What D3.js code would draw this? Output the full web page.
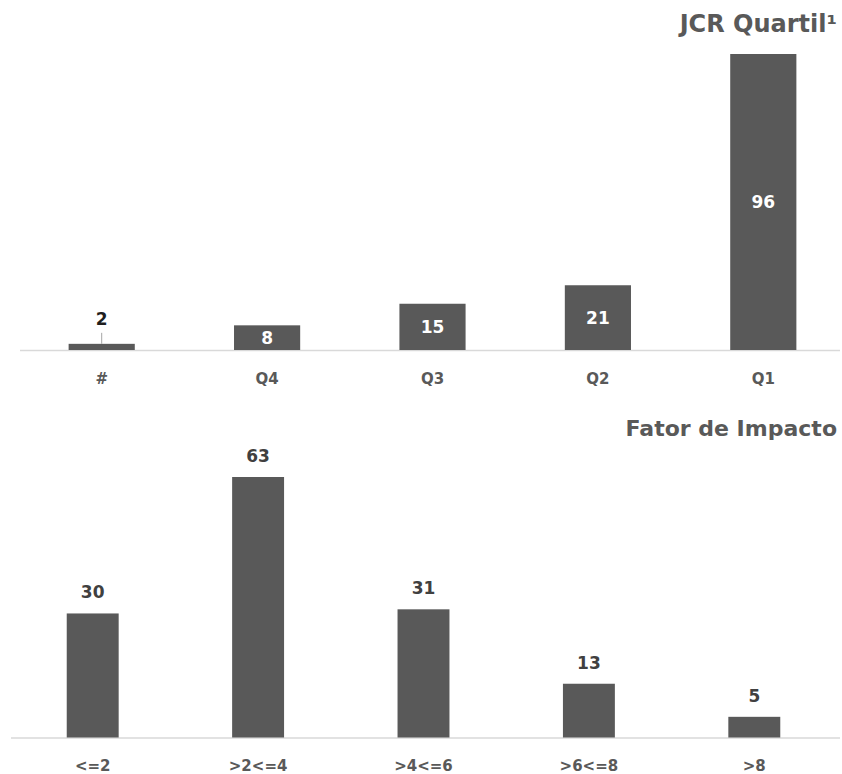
<!DOCTYPE html>
<html>
<head>
<meta charset="utf-8">
<script src="https://cdn.jsdelivr.net/npm/d3@7/dist/d3.min.js"></script>
<style>
  html, body { margin: 0; padding: 0; background: #fff; }
  svg { display: block; }
</style>
</head>
<body>
<svg id="chart" width="842" height="774"></svg>
<script>
// JCR quartile counts
const quartilCategories = ["#", "Q4", "Q3", "Q2", "Q1"];
const quartilValues = [2, 8, 15, 21, 96];

// Impact factor range counts
const fatorCategories = ["<=2", ">2<=4", ">4<=6", ">6<=8", ">8"];
const fatorValues = [30, 63, 31, 13, 5];

const svg = d3.select("#chart");
const barColor = "#595959";
const textGray = "#595959";
const font = "'DejaVu Sans', Verdana, sans-serif";

function drawPanel(opts) {
  const g = svg.append("g");
  const x = d3.scaleBand()
    .domain(opts.categories)
    .range(opts.xRange)
    .paddingInner(opts.padding)
    .paddingOuter(opts.padding / 2);
  const y = d3.scaleLinear()
    .domain([0, opts.yMax])
    .range([opts.baseline, opts.top]);

  const data = opts.categories.map((c, i) => ({ cat: c, val: opts.values[i] }));

  // baseline
  g.append("line")
    .attr("x1", opts.xRange[0] + 1).attr("x2", 840)
    .attr("y1", opts.baseline + 0.5).attr("y2", opts.baseline + 0.5)
    .attr("stroke", "#d9d9d9").attr("stroke-width", 1.5);

  // bars
  g.selectAll("rect.bar").data(data).join("rect")
    .attr("class", "bar")
    .attr("x", d => x(d.cat))
    .attr("width", x.bandwidth())
    .attr("y", d => y(d.val))
    .attr("height", d => opts.baseline - y(d.val))
    .attr("fill", barColor);

  // category axis
  const axis = d3.axisBottom(x).tickSize(0).tickPadding(0);
  const ax = g.append("g")
    .attr("transform", `translate(0,${opts.baseline})`)
    .call(axis);
  ax.select(".domain").remove();
  ax.selectAll("text")
    .attr("y", opts.axisOffset)
    .attr("dy", "0.35em")
    .attr("font-family", font)
    .attr("font-weight", "bold")
    .attr("font-size", 15)
    .attr("fill", textGray);

  // title
  g.append("text")
    .attr("x", 837)
    .attr("y", opts.titleY)
    .attr("text-anchor", "end")
    .attr("dy", "0.35em")
    .attr("font-family", font)
    .attr("font-weight", "bold")
    .attr("font-size", opts.titleSize)
    .attr("fill", textGray)
    .text(opts.title);

  return { g, x, y, data };
}

// Top panel: quartiles, labels centred inside bars (small bar gets a leader)
const quartilPanel = drawPanel({
  categories: quartilCategories,
  values: quartilValues,
  xRange: [19, 846],
  padding: 0.6,
  baseline: 350,
  top: 54,
  yMax: 96,
  axisOffset: 29,
  titleY: 24,
  titleSize: 24,
  title: "JCR Quartil¹"
});

const qBase = quartilPanel.y(0);
quartilPanel.g.selectAll("text.val").data(quartilPanel.data).join("text")
  .attr("class", "val")
  .attr("x", d => quartilPanel.x(d.cat) + quartilPanel.x.bandwidth() / 2)
  .attr("y", d => d.val < 5 ? quartilPanel.y(d.val) - 25 : (quartilPanel.y(d.val) + qBase) / 2)
  .attr("dy", "0.35em")
  .attr("text-anchor", "middle")
  .attr("font-family", font)
  .attr("font-weight", "bold")
  .attr("font-size", 17)
  .attr("fill", d => d.val < 5 ? "#1f1f1f" : "#ffffff")
  .text(d => d.val);

quartilPanel.g.selectAll("line.leader").data(quartilPanel.data.filter(d => d.val < 5)).join("line")
  .attr("class", "leader")
  .attr("x1", d => quartilPanel.x(d.cat) + quartilPanel.x.bandwidth() / 2)
  .attr("x2", d => quartilPanel.x(d.cat) + quartilPanel.x.bandwidth() / 2)
  .attr("y1", d => quartilPanel.y(d.val) - 11)
  .attr("y2", d => quartilPanel.y(d.val))
  .attr("stroke", "#a6a6a6")
  .attr("stroke-width", 1);

// Bottom panel: impact factor, labels above bars
const fatorPanel = drawPanel({
  categories: fatorCategories,
  values: fatorValues,
  xRange: [10, 837],
  padding: 0.686,
  baseline: 737.5,
  top: 477,
  yMax: 63,
  axisOffset: 28,
  titleY: 428,
  titleSize: 22,
  title: "Fator de Impacto"
});

fatorPanel.g.selectAll("text.val").data(fatorPanel.data).join("text")
  .attr("class", "val")
  .attr("x", d => fatorPanel.x(d.cat) + fatorPanel.x.bandwidth() / 2)
  .attr("y", d => fatorPanel.y(d.val) - 21)
  .attr("dy", "0.35em")
  .attr("text-anchor", "middle")
  .attr("font-family", font)
  .attr("font-weight", "bold")
  .attr("font-size", 17)
  .attr("fill", "#404040")
  .text(d => d.val);
</script>
</body>
</html>
